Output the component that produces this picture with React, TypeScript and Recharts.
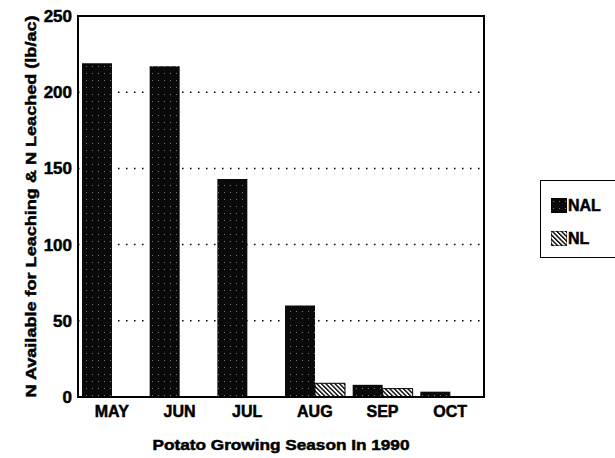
import { BarChart, Bar, XAxis, YAxis, CartesianGrid, ReferenceArea } from 'recharts';

const months = ['MAY', 'JUN', 'JUL', 'AUG', 'SEP', 'OCT'];
const nalValues = [219, 217, 143, 60, 8, 3.5];
const nlValues = [0, 0, 0, 9, 5.5, 0];
const yTicks = [0, 50, 100, 150, 200, 250];

const data = months.map((m, i) => ({ month: m, NAL: nalValues[i], NL: nlValues[i] }));

const font = '"Liberation Sans", Arial, Helvetica, sans-serif';

function LegendBox() {
  const items = [
    { name: 'NAL', fill: 'url(#nalPattern)' },
    { name: 'NL', fill: 'url(#nlPattern)' },
  ];
  return (
    <div
      style={{
        position: 'absolute',
        left: 540,
        top: 180,
        width: 90,
        height: 78,
        border: '1.5px solid #000',
        boxSizing: 'border-box',
        paddingTop: 8,
        paddingLeft: 10,
        fontFamily: font,
        fontWeight: 'bold',
        fontSize: 16,
        color: '#000',
        WebkitTextStroke: '0.5px #000',
      }}
    >
      {items.map((it) => (
        <div key={it.name} style={{ display: 'flex', alignItems: 'center', height: 33 }}>
          <svg width={16} height={15} style={{ marginRight: 1 }}>
            <rect x={0} y={0} width={16} height={15} fill={it.fill} stroke="#000" strokeWidth={1} />
          </svg>
          <span>{it.name}</span>
        </div>
      ))}
    </div>
  );
}

export default function App() {
  return (
    <div style={{ position: 'absolute', left: 0, top: 0, width: 615, height: 458, background: '#fff', overflow: 'hidden' }}>
      <BarChart
        width={615}
        height={458}
        data={data}
        margin={{ top: 16, right: 131, bottom: 7, left: 28 }}
        barCategoryGap={4}
        barGap={0}
      >
        <defs>
          <pattern id="nalPattern" width={6} height={7} patternUnits="userSpaceOnUse">
            <rect width={6} height={7} fill="#0a0a0a" />
            <rect x={2} y={3} width={1} height={1} fill="#777" />
          </pattern>
          <pattern
            id="nlPattern"
            width={3.2}
            height={3.2}
            patternUnits="userSpaceOnUse"
            patternTransform="rotate(-45)"
          >
            <rect width={3.2} height={3.2} fill="#fff" />
            <line x1={0} y1={0} x2={0} y2={3.2} stroke="#000" strokeWidth={2.8} />
          </pattern>
        </defs>
        <CartesianGrid
          vertical={false}
          stroke="#000"
          strokeWidth={1.5}
          strokeDasharray="1.5 6.5"
        />
        <XAxis
          dataKey="month"
          tickLine={false}
          tickSize={0}
          tickMargin={9}
          axisLine={{ stroke: '#000', strokeWidth: 2 }}
          tick={{ fill: '#000', stroke: '#000', strokeWidth: 0.5, fontSize: 16, fontWeight: 'bold', fontFamily: font }}
          height={54}
          label={{
            content: (props: any) => {
              const vb = props.viewBox || {};
              const cx = (vb.x || 0) + (vb.width || 0) / 2;
              return (
                <text
                  x={cx}
                  y={450}
                  textAnchor="middle"
                  fill="#000"
                  stroke="#000"
                  strokeWidth={0.5}
                  fontSize={15}
                  fontWeight="bold"
                  fontFamily={font}
                  textLength={257}
                  lengthAdjust="spacingAndGlyphs"
                >
                  Potato Growing Season In 1990
                </text>
              );
            },
          }}
        />
        <YAxis
          domain={[0, 250]}
          ticks={yTicks}
          tickLine={false}
          tickSize={0}
          tickMargin={6}
          width={50}
          axisLine={{ stroke: '#000', strokeWidth: 2 }}
          tick={{ fill: '#000', stroke: '#000', strokeWidth: 0.5, fontSize: 17, fontWeight: 'bold', fontFamily: font }}
          label={{
            content: (props: any) => {
              const vb = props.viewBox || {};
              const cy = (vb.y || 0) + (vb.height || 0) / 2;
              return (
                <text
                  x={30}
                  y={cy}
                  transform={`rotate(-90, 30, ${cy})`}
                  textAnchor="middle"
                  dominantBaseline="central"
                  fill="#000"
                  stroke="#000"
                  strokeWidth={0.5}
                  fontSize={15}
                  fontWeight="bold"
                  fontFamily={font}
                  textLength={382}
                  lengthAdjust="spacingAndGlyphs"
                >
                  N Available for Leaching &amp; N Leached (lb/ac)
                </text>
              );
            },
          }}
        />
        <ReferenceArea
          y1={0}
          y2={250}
          fill="none"
          stroke="#000"
          strokeWidth={2}
          ifOverflow="visible"
        />
        <Bar dataKey="NAL" fill="url(#nalPattern)" isAnimationActive={false} />
        <Bar dataKey="NL" fill="url(#nlPattern)" stroke="#000" strokeWidth={1} isAnimationActive={false} />
      </BarChart>
      <LegendBox />
    </div>
  );
}
